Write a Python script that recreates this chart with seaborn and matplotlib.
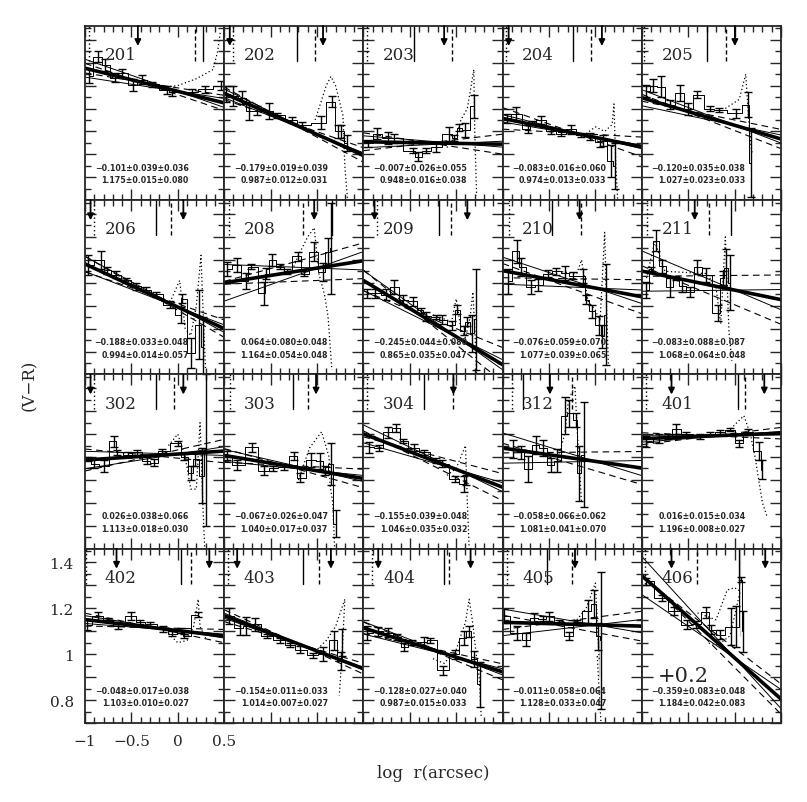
import matplotlib
matplotlib.use('Agg')
import matplotlib.pyplot as plt
import seaborn as sns
from matplotlib.ticker import MultipleLocator, FuncFormatter

sns.set_style('ticks')
plt.rcParams['font.family'] = ['DejaVu Serif']

# panel labels and fit coefficients (slope, intercept at log r = 0)
labels = ['201', '202', '203', '204', '205',
          '206', '208', '209', '210', '211',
          '302', '303', '304', '312', '401',
          '402', '403', '404', '405', '406']
slope = [-0.101, -0.179, -0.007, -0.083, -0.120,
         -0.188, 0.064, -0.245, -0.076, -0.083,
         0.026, -0.067, -0.155, -0.058, 0.016,
         -0.048, -0.154, -0.128, -0.011, -0.359]
slope_e1 = [0.039, 0.019, 0.026, 0.016, 0.035,
            0.033, 0.080, 0.044, 0.059, 0.088,
            0.038, 0.026, 0.039, 0.066, 0.015,
            0.017, 0.011, 0.027, 0.058, 0.083]
slope_e2 = [0.036, 0.039, 0.055, 0.060, 0.038,
            0.048, 0.048, 0.080, 0.070, 0.087,
            0.066, 0.047, 0.048, 0.062, 0.034,
            0.038, 0.033, 0.040, 0.064, 0.048]
icept = [1.175, 0.987, 0.948, 0.974, 1.027,
         0.994, 1.164, 0.865, 1.077, 1.068,
         1.113, 1.040, 1.046, 1.081, 1.196,
         1.103, 1.014, 0.987, 1.128, 1.184]
icept_e1 = [0.015, 0.012, 0.016, 0.013, 0.023,
            0.014, 0.054, 0.035, 0.039, 0.064,
            0.018, 0.017, 0.035, 0.041, 0.008,
            0.010, 0.007, 0.015, 0.033, 0.042]
icept_e2 = [0.080, 0.031, 0.038, 0.033, 0.033,
            0.057, 0.048, 0.047, 0.065, 0.048,
            0.030, 0.037, 0.032, 0.070, 0.027,
            0.027, 0.027, 0.033, 0.047, 0.083]
offset = {'406': 0.2}

# markers drawn from the top of each panel
vline_solid = [0.27, -0.22, -0.45, -0.245, -0.30,
               -0.24, 0.16, -0.18, -0.47, -0.04,
               -0.24, -0.26, -0.35, -0.78, 0.035,
               0.035, -0.15, -0.13, -0.52, 0.045]
vline_dash = [0.19, -0.02, -0.04, -0.05, -0.09,
              -0.07, -0.15, -0.06, -0.16, -0.28,
              -0.04, -0.10, -0.03, -0.25, 0.11,
              0.14, 0.02, -0.08, -0.25, -0.40]
vline_dot = [-0.96, -0.91, -0.96, -0.96, -0.98,
             -0.90, -0.95, -0.85, -0.935, -0.94,
             -0.90, -0.94, -0.96, -0.90, -0.96,
             -0.99, -0.96, -0.91, -0.95, -0.97]
arrow_left = [None, -0.94, None, -0.935, None,
              -0.94, None, -0.88, None, None,
              -0.94, None, None, None, -0.68,
              -0.66, -0.86, -0.84, None, -0.68]
arrow_right = [-0.43, 0.065, -0.13, 0.07, 0.003,
               0.06, -0.03, 0.12, -0.17, -0.43,
               0.06, -0.01, -0.03, -0.49, 0.32,
               0.34, 0.15, 0.155, -0.22, 0.33]

# colour profile points with error bars
pts_x = {
    '201': [-0.96, -0.86, -0.78, -0.68, -0.60, -0.48, -0.39, -0.28, -0.12, -0.06, 0.15, 0.29, 0.47],
    '202': [-0.98, -0.90, -0.81, -0.73, -0.65, -0.52, -0.43, -0.27, -0.16, 0.04, 0.16, 0.23, 0.26, 0.32],
    '203': [-0.95, -0.85, -0.74, -0.67, -0.47, -0.41, -0.32, -0.22, -0.08, -0.02, 0.03, 0.10, 0.19],
    '204': [-0.95, -0.86, -0.73, -0.68, -0.59, -0.48, -0.37, -0.26, -0.15, -0.06, 0.05, 0.08, 0.17, 0.21],
    '205': [-0.95, -0.88, -0.79, -0.70, -0.59, -0.50, -0.40, -0.27, -0.17, 0.01, 0.14, 0.18],
    '206': [-0.97, -0.83, -0.76, -0.67, -0.56, -0.45, -0.34, -0.24, -0.08, 0.03, 0.05, 0.14, 0.23, 0.27],
    '208': [-0.97, -0.86, -0.77, -0.71, -0.57, -0.55, -0.48, -0.40, -0.32, -0.21, -0.14, -0.03, 0.06, 0.12, 0.15],
    '209': [-0.96, -0.87, -0.76, -0.67, -0.57, -0.47, -0.38, -0.33, -0.22, -0.15, -0.04, 0.01, 0.08, 0.12, 0.17, 0.21],
    '210': [-0.94, -0.85, -0.80, -0.69, -0.62, -0.51, -0.42, -0.33, -0.24, -0.13, -0.10, -0.04, 0.04, 0.07, 0.11],
    '211': [-0.95, -0.90, -0.85, -0.78, -0.70, -0.63, -0.57, -0.48, -0.40, -0.31, -0.18, -0.13, -0.09, -0.05],
    '302': [-0.97, -0.90, -0.80, -0.69, -0.65, -0.54, -0.44, -0.33, -0.26, -0.17, 0.0, 0.07, 0.14, 0.19, 0.26, 0.30],
    '303': [-0.97, -0.86, -0.70, -0.57, -0.47, -0.36, -0.25, -0.18, -0.06, 0.03, 0.09, 0.15, 0.20],
    '304': [-0.935, -0.83, -0.74, -0.65, -0.57, -0.46, -0.35, -0.22, -0.15, -0.01, 0.08, 0.11],
    '312': [-0.89, -0.80, -0.73, -0.64, -0.57, -0.48, -0.41, -0.33, -0.28, -0.21, -0.18, -0.12],
    '401': [-0.955, -0.81, -0.72, -0.63, -0.52, -0.37, -0.26, -0.16, -0.05, 0.05, 0.14, 0.26, 0.30],
    '402': [-0.98, -0.86, -0.75, -0.64, -0.50, -0.41, -0.30, -0.155, -0.065, 0.04, 0.07, 0.22],
    '403': [-0.95, -0.83, -0.76, -0.67, -0.54, -0.40, -0.29, -0.18, -0.04, 0.07, 0.18, 0.26, 0.27],
    '404': [-0.96, -0.84, -0.73, -0.64, -0.56, -0.48, -0.35, -0.28, -0.14, -0.01, 0.08, 0.135, 0.19, 0.26],
    '405': [-0.99, -0.84, -0.75, -0.66, -0.57, -0.50, -0.39, -0.28, -0.20, -0.08, -0.01, 0.03, 0.06],
    '406': [-0.96, -0.78, -0.65, -0.51, -0.42, -0.31, -0.25, -0.16, -0.04, 0.02, 0.07, 0.09],
}
pts_y = {
    '201': [1.242, 1.326, 1.289, 1.235, 1.254, 1.202, 1.225, 1.205, 1.181, 1.17, 1.174, 1.184, 1.199],
    '202': [1.162, 1.155, 1.148, 1.09, 1.09, 1.09, 1.07, 1.05, 1.03, 1.039, 1.13, 1.0, 1.0, 0.95],
    '203': [0.949, 0.99, 0.971, 0.97, 0.916, 0.89, 0.916, 0.932, 0.99, 0.972, 1.016, 1.007, 1.11],
    '204': [1.058, 1.075, 1.011, 1.036, 1.05, 1.0, 0.99, 1.01, 0.985, 0.978, 0.953, 0.96, 0.87, 0.85],
    '205': [1.177, 1.2, 1.196, 1.116, 1.167, 1.098, 1.16, 1.1, 1.094, 1.08, 1.116, 0.864],
    '206': [1.178, 1.2, 1.155, 1.135, 1.11, 1.084, 1.07, 1.05, 1.004, 0.96, 1.03, 0.794, 0.917, 0.82],
    '208': [1.161, 1.176, 1.106, 1.17, 1.055, 1.14, 1.2, 1.17, 1.15, 1.215, 1.14, 1.236, 1.146, 1.236, 1.25],
    '209': [1.055, 1.055, 1.048, 1.08, 1.026, 1.019, 0.98, 0.953, 0.95, 0.939, 0.914, 0.982, 0.891, 0.93, 0.88, 0.94],
    '210': [1.106, 1.237, 1.17, 1.08, 1.09, 1.14, 1.15, 1.142, 1.13, 1.13, 1.026, 0.975, 0.914, 0.867, 0.96],
    '211': [1.069, 1.16, 1.283, 1.171, 1.08, 1.12, 1.088, 1.06, 1.168, 1.135, 0.968, 1.12, 1.164, 1.1],
    '302': [1.091, 1.07, 1.06, 1.168, 1.12, 1.11, 1.12, 1.084, 1.075, 1.125, 1.16, 1.1, 1.03, 1.09, 1.019, 1.13],
    '303': [1.106, 1.065, 1.142, 1.04, 1.05, 1.055, 1.103, 1.01, 1.088, 1.084, 1.04, 1.07, 0.81],
    '304': [1.142, 1.14, 1.207, 1.225, 1.17, 1.14, 1.12, 1.085, 1.07, 1.004, 0.982, 1.0],
    '312': [1.135, 1.12, 1.048, 1.152, 1.14, 1.065, 1.084, 1.28, 1.29, 1.26, 1.03, 1.11],
    '401': [1.167, 1.181, 1.19, 1.222, 1.2, 1.19, 1.2, 1.21, 1.22, 1.16, 1.21, 1.127, 1.045],
    '402': [1.129, 1.165, 1.15, 1.122, 1.165, 1.14, 1.13, 1.11, 1.09, 1.104, 1.08, 1.173],
    '403': [1.165, 1.115, 1.122, 1.13, 1.08, 1.06, 1.04, 1.02, 0.995, 1.0, 1.06, 0.97, 1.05],
    '404': [1.093, 1.1, 1.093, 1.075, 1.03, 1.05, 1.055, 1.06, 0.929, 1.0, 1.071, 1.1, 0.98, 0.868],
    '405': [1.165, 1.093, 1.064, 1.158, 1.155, 1.165, 1.14, 1.081, 1.14, 1.187, 1.22, 1.078, 1.06],
    '406': [1.318, 1.245, 1.19, 1.129, 1.13, 1.183, 1.107, 1.085, 1.12, 1.12, 1.325, 1.1],
}
pts_e = {
    '201': [0.03, 0.025, 0.025, 0.02, 0.02, 0.025, 0.02, 0.012, 0.018, 0.015, 0.01, 0.015, 0.02],
    '202': [0.035, 0.045, 0.03, 0.04, 0.02, 0.035, 0.012, 0.015, 0.012, 0.03, 0.025, 0.03, 0.03, 0.035],
    '203': [0.015, 0.025, 0.025, 0.02, 0.01, 0.02, 0.01, 0.02, 0.03, 0.012, 0.015, 0.03, 0.05],
    '204': [0.02, 0.03, 0.018, 0.01, 0.018, 0.01, 0.01, 0.02, 0.01, 0.015, 0.02, 0.025, 0.07, 0.1],
    '205': [0.025, 0.03, 0.045, 0.02, 0.035, 0.025, 0.015, 0.01, 0.01, 0.02, 0.055, 0.15],
    '206': [0.045, 0.04, 0.015, 0.015, 0.01, 0.015, 0.01, 0.01, 0.015, 0.035, 0.02, 0.065, 0.15, 0.13],
    '208': [0.03, 0.03, 0.035, 0.01, 0.05, 0.025, 0.025, 0.01, 0.01, 0.02, 0.012, 0.04, 0.04, 0.06, 0.2],
    '209': [0.02, 0.02, 0.025, 0.03, 0.02, 0.02, 0.01, 0.02, 0.01, 0.02, 0.02, 0.02, 0.02, 0.02, 0.08, 0.22],
    '210': [0.055, 0.05, 0.04, 0.03, 0.025, 0.015, 0.015, 0.03, 0.015, 0.03, 0.02, 0.03, 0.04, 0.05, 0.22],
    '211': [0.035, 0.01, 0.045, 0.03, 0.04, 0.01, 0.03, 0.02, 0.03, 0.03, 0.035, 0.03, 0.085, 0.12],
    '302': [0.01, 0.02, 0.025, 0.025, 0.01, 0.01, 0.01, 0.015, 0.015, 0.01, 0.01, 0.015, 0.03, 0.03, 0.12, 0.33],
    '303': [0.02, 0.02, 0.02, 0.02, 0.01, 0.01, 0.018, 0.02, 0.03, 0.035, 0.02, 0.09, 0.06],
    '304': [0.025, 0.012, 0.025, 0.017, 0.01, 0.015, 0.012, 0.01, 0.015, 0.012, 0.035, 0.02],
    '312': [0.04, 0.03, 0.055, 0.04, 0.035, 0.03, 0.05, 0.08, 0.06, 0.03, 0.12, 0.23],
    '401': [0.025, 0.018, 0.01, 0.02, 0.01, 0.01, 0.008, 0.01, 0.008, 0.015, 0.012, 0.04, 0.04],
    '402': [0.025, 0.018, 0.01, 0.012, 0.018, 0.01, 0.01, 0.012, 0.01, 0.01, 0.01, 0.012],
    '403': [0.035, 0.03, 0.04, 0.03, 0.01, 0.012, 0.01, 0.015, 0.01, 0.03, 0.04, 0.04, 0.06],
    '404': [0.03, 0.02, 0.02, 0.012, 0.018, 0.01, 0.018, 0.01, 0.018, 0.02, 0.03, 0.025, 0.035, 0.1],
    '405': [0.03, 0.03, 0.03, 0.02, 0.012, 0.02, 0.01, 0.018, 0.01, 0.05, 0.06, 0.06, 0.3],
    '406': [0.015, 0.015, 0.018, 0.02, 0.015, 0.025, 0.02, 0.02, 0.08, 0.09, 0.01, 0.09],
}

# dotted profiles
dot_x = {
    '201': [-0.2, 0.0, 0.2, 0.38, 0.43, 0.46],
    '202': [-0.02, 0.1, 0.15, 0.2, 0.28, 0.3, 0.33],
    '203': [-0.1, 0.0, 0.05, 0.12, 0.19, 0.2, 0.22],
    '204': [-0.1, 0.0, 0.1, 0.18, 0.2, 0.22, 0.24],
    '205': [-0.1, 0.05, 0.12, 0.15, 0.17, 0.19],
    '206': [-0.1, 0.02, 0.08, 0.14, 0.2, 0.25, 0.28, 0.3],
    '208': [-0.25, -0.2, -0.1, -0.03, 0.02, 0.08, 0.12, 0.16],
    '209': [-0.25, -0.05, 0.0, 0.05, 0.1, 0.15, 0.18, 0.2, 0.22],
    '210': [-0.4, -0.2, -0.15, -0.08, 0.0, 0.05, 0.1, 0.12, 0.14],
    '211': [-0.95, -0.86, -0.75, -0.3, -0.2, -0.15, -0.1, -0.06, -0.03],
    '302': [-0.1, 0.0, 0.08, 0.14, 0.2, 0.24, 0.27, 0.29],
    '303': [-0.2, -0.08, 0.05, 0.13, 0.14, 0.17, 0.19],
    '304': [-0.1, 0.0, 0.1, 0.12, 0.14],
    '312': [-0.4, -0.33, -0.29, -0.22, -0.2, -0.17, -0.15],
    '401': [-0.1, 0.1, 0.17, 0.22, 0.3, 0.35],
    '402': [-0.1, 0.0, 0.1, 0.17, 0.22, 0.24, 0.3],
    '403': [-0.05, 0.1, 0.2, 0.3, 0.27, 0.24],
    '404': [-0.25, -0.13, 0.0, 0.1, 0.14, 0.18, 0.21, 0.25, 0.27],
    '405': [-0.2, -0.1, 0.0, 0.04, 0.02, 0.04, 0.06],
    '406': [-0.4, -0.2, -0.08, 0.0, 0.06, 0.06, -0.05, -0.18, -0.3],
}
dot_y = {
    '201': [1.19, 1.2, 1.23, 1.27, 1.35, 1.44],
    '202': [1.05, 1.2, 1.24, 1.2, 1.07, 0.85, 0.7],
    '203': [0.93, 0.98, 1.05, 1.1, 1.27, 1.0, 0.72],
    '204': [0.99, 1.02, 1.0, 1.03, 1.12, 0.85, 0.7],
    '205': [1.1, 1.14, 1.25, 1.06, 0.96, 0.9],
    '206': [1.0, 1.11, 0.9, 0.87, 1.0, 1.22, 0.9, 0.72],
    '208': [1.17, 1.22, 1.3, 1.34, 1.14, 1.05, 0.95, 0.72],
    '209': [0.96, 0.93, 1.03, 0.9, 0.86, 0.95, 1.06, 0.9, 0.7],
    '210': [1.15, 1.14, 1.2, 1.02, 0.98, 0.93, 1.32, 1.0, 0.74],
    '211': [1.12, 1.28, 1.15, 1.14, 1.08, 0.92, 1.3, 0.88, 0.76],
    '302': [1.15, 1.2, 1.1, 0.96, 0.96, 1.25, 0.9, 0.7],
    '303': [1.0, 1.14, 1.21, 1.1, 0.98, 0.9, 0.7],
    '304': [1.02, 1.05, 1.15, 0.9, 0.7],
    '312': [1.1, 1.2, 1.35, 1.41, 1.24, 1.05, 0.9],
    '401': [1.2, 1.28, 1.2, 1.1, 0.9, 0.84],
    '402': [1.09, 1.05, 1.06, 1.12, 1.24, 1.12, 1.07],
    '403': [1.0, 1.06, 1.12, 1.24, 1.0, 0.82],
    '404': [0.98, 0.96, 1.02, 1.14, 1.24, 1.13, 1.02, 0.89, 0.72],
    '405': [1.15, 1.2, 1.31, 1.06, 0.99, 0.9, 0.7],
    '406': [1.18, 1.15, 1.28, 1.29, 1.47, 1.08, 1.08, 1.04, 1.05],
}

x_range = [-1.0, 0.5]


def fmt_num(v):
    return ('%g' % v).replace('-', '\u2212')


def fmt_coef(a, e1, e2):
    return ('%.3f\u00b1%.3f\u00b1%.3f' % (a, e1, e2)).replace('-', '\u2212')


fig, axes = plt.subplots(4, 5, sharex=True, sharey=True, figsize=(8.07, 8.03), dpi=100)
fig.subplots_adjust(left=0.1053, right=0.9678, top=0.9664, bottom=0.0984, wspace=0, hspace=0)

for i, lab in enumerate(labels):
    ax = axes.flat[i]
    m, b = slope[i], icept[i] - offset.get(lab, 0.0)

    # fitted lines: thin solid and dashed envelopes, thick best fit
    for dm in (slope_e1[i], -slope_e1[i]):
        sns.lineplot(x=x_range, y=[b + (m + dm) * v for v in x_range], ax=ax,
                     color='k', lw=0.7, sort=False)
    for dm, db in ((slope_e2[i], icept_e1[i]), (-slope_e2[i], -icept_e1[i])):
        sns.lineplot(x=x_range, y=[b + db + (m + dm) * v for v in x_range], ax=ax,
                     color='k', lw=0.8, sort=False, linestyle=(0, (6, 4)))
    sns.lineplot(x=x_range, y=[b + m * v for v in x_range], ax=ax,
                 color='k', lw=2.6, sort=False)

    # dotted profile
    sns.lineplot(x=dot_x[lab], y=dot_y[lab], ax=ax, color='k', lw=0.9,
                 sort=False, linestyle=(0, (1, 2)))

    # profile points
    ax.plot(pts_x[lab], pts_y[lab], color='k', lw=0.7, drawstyle='steps-mid')
    ax.errorbar(pts_x[lab], pts_y[lab], yerr=pts_e[lab], fmt='none',
                ecolor='k', elinewidth=1.0, capsize=3, capthick=1.0)

    # markers at the top
    ax.axvline(vline_solid[i], ymin=0.8, ymax=1.0, color='k', lw=1.0)
    ax.axvline(vline_dash[i], ymin=0.8, ymax=1.0, color='k', lw=1.0, linestyle=(0, (3, 2)))
    ax.axvline(vline_dot[i], ymin=0.8, ymax=1.0, color='k', lw=1.0, linestyle=(0, (1, 2)))
    for xa in (arrow_left[i], arrow_right[i]):
        if xa is None:
            continue
        ax.annotate('', xy=(xa, 0.885), xytext=(xa, 1.0),
                    xycoords=('data', 'axes fraction'),
                    textcoords=('data', 'axes fraction'),
                    arrowprops=dict(arrowstyle='-|>', color='k', lw=1.3,
                                    mutation_scale=9, shrinkA=0, shrinkB=0))

    ax.text(0.255, 0.835, lab, transform=ax.transAxes, ha='center', va='center', fontsize=12)
    ax.text(0.745, 0.188, fmt_coef(slope[i], slope_e1[i], slope_e2[i]), transform=ax.transAxes,
            ha='right', va='center', fontsize=5.7, fontweight='bold', family='DejaVu Sans')
    ax.text(0.745, 0.117, fmt_coef(icept[i], icept_e1[i], icept_e2[i]), transform=ax.transAxes,
            ha='right', va='center', fontsize=5.7, fontweight='bold', family='DejaVu Sans')
    if lab in offset:
        ax.text(0.30, 0.275, '+%.1f' % offset[lab], transform=ax.transAxes,
                ha='center', va='center', fontsize=15)

    ax.set_xlim(-1.0, 0.5)
    ax.set_ylim(0.70, 1.46)
    ax.xaxis.set_major_locator(MultipleLocator(0.5))
    ax.xaxis.set_minor_locator(MultipleLocator(0.1))
    ax.yaxis.set_major_locator(MultipleLocator(0.1))
    ax.yaxis.set_minor_locator(MultipleLocator(0.05))
    ax.tick_params(which='both', direction='in', top=True, right=True, width=1.0)
    ax.tick_params(which='major', length=8, labelsize=11, pad=8)
    ax.tick_params(which='minor', length=4)
    for s in ax.spines.values():
        s.set_linewidth(1.3)
    ax.set_xlabel('')
    ax.set_ylabel('')
    if i != 15:
        ax.tick_params(labelbottom=False, labelleft=False)

axes[3, 0].xaxis.set_major_formatter(FuncFormatter(lambda v, p: fmt_num(v)))
axes[3, 0].yaxis.set_major_formatter(
    FuncFormatter(lambda v, p: fmt_num(round(v, 2)) if abs(v * 5 - round(v * 5)) < 1e-6 else ''))

fig.text(0.537, 0.037, 'log  r(arcsec)', ha='center', va='center', fontsize=12)
fig.text(0.037, 0.52, '(V\u2212R)', ha='center', va='center', rotation=90, fontsize=12)

fig.savefig('out.png', dpi=100)
